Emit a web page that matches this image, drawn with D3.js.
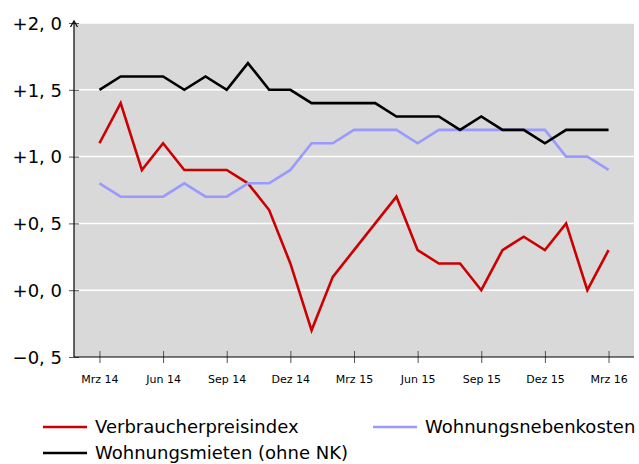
<!DOCTYPE html>
<html><head><meta charset="utf-8">
<script src="https://cdn.jsdelivr.net/npm/d3@7"></script>
<style>body{margin:0;background:#fff}svg{display:block}text{font-family:"DejaVu Sans",sans-serif}</style>
</head><body><svg id="c" width="639" height="464"></svg>
<script>
const months = ["Mrz 14","Apr 14","Mai 14","Jun 14","Jul 14","Aug 14","Sep 14","Okt 14","Nov 14","Dez 14","Jan 15","Feb 15","Mrz 15","Apr 15","Mai 15","Jun 15","Jul 15","Aug 15","Sep 15","Okt 15","Nov 15","Dez 15","Jan 16","Feb 16","Mrz 16"];
const tickLabels = ["Mrz 14","Jun 14","Sep 14","Dez 14","Mrz 15","Jun 15","Sep 15","Dez 15","Mrz 16"];
const yTicks = [-0.5,0,0.5,1,1.5,2];
const vpi = [1.1,1.4,0.9,1.1,0.9,0.9,0.9,0.8,0.6,0.2,-0.3,0.1,0.3,0.5,0.7,0.3,0.2,0.2,0.0,0.3,0.4,0.3,0.5,0.0,0.3];
const nebenkosten = [0.8,0.7,0.7,0.7,0.8,0.7,0.7,0.8,0.8,0.9,1.1,1.1,1.2,1.2,1.2,1.1,1.2,1.2,1.2,1.2,1.2,1.2,1.0,1.0,0.9];
const mieten = [1.5,1.6,1.6,1.6,1.5,1.6,1.5,1.7,1.5,1.5,1.4,1.4,1.4,1.4,1.3,1.3,1.3,1.2,1.3,1.2,1.2,1.1,1.2,1.2,1.2];
const seriesNames = ["Verbraucherpreisindex","Wohnungsnebenkosten","Wohnungsmieten (ohne NK)"];
const colors = ["#cc0000","#9999ff","#000000"];

const svg = d3.select("#c");
const x = d3.scaleLinear().domain([-1.2,25.2]).range([74,634]);
const y = d3.scaleLinear().domain([-0.5,2]).range([357,23]);

svg.append("rect").attr("x",x(-1.2)).attr("y",y(2)).attr("width",x(25.2)-x(-1.2)).attr("height",y(-0.5)-y(2)).attr("fill","#d9d9d9");
svg.selectAll("line.grid").data(yTicks.filter(d=>d>-0.5)).join("line").attr("class","grid")
  .attr("x1",x(-1.2)).attr("x2",x(25.2)).attr("y1",d=>y(d)).attr("y2",d=>y(d))
  .attr("stroke","#fff").attr("stroke-width",1.5);

const fmt = d => (d<0?"\u2212":"+") + Math.abs(d).toFixed(1).replace(".",", ");
const yAxis = d3.axisLeft(y).tickValues(yTicks).tickFormat(fmt).tickSize(5).tickPadding(8);
const gy = svg.append("g").attr("transform",`translate(${x(-1.2)},0)`).call(yAxis);
gy.select(".domain").remove();
gy.selectAll(".tick line").attr("x2",5).attr("x1",-5).attr("stroke","#555");
gy.selectAll(".tick text").attr("font-size",18).attr("fill","#000").attr("dy","0.35em").attr("x",-12);

const tickIdx = tickLabels.map(t=>months.indexOf(t));
const xAxis = d3.axisBottom(x).tickValues(tickIdx).tickFormat(i=>months[i]).tickSize(6).tickPadding(12);
const gx = svg.append("g").attr("transform",`translate(0,${y(-0.5)})`).call(xAxis);
gx.select(".domain").remove();
gx.selectAll(".tick line").attr("y1",-6).attr("y2",6).attr("stroke","#555");
gx.selectAll(".tick text").attr("font-size",11).attr("fill","#000");

svg.append("line").attr("x1",x(-1.2)).attr("x2",x(25.2)).attr("y1",y(-0.5)).attr("y2",y(-0.5)).attr("stroke","#000").attr("stroke-width",1.2);
svg.append("line").attr("x1",x(-1.2)).attr("x2",x(-1.2)).attr("y1",y(-0.5)).attr("y2",y(2)-1).attr("stroke","#000").attr("stroke-width",1.2);
svg.append("path").attr("d",`M${x(-1.2)-3.5},${y(2)+4} L${x(-1.2)},${y(2)-2} L${x(-1.2)+3.5},${y(2)+4}`).attr("fill","none").attr("stroke","#000").attr("stroke-width",1.2);

const line = d3.line().x((d,i)=>x(i)).y(d=>y(d));
[vpi,nebenkosten,mieten].forEach((s,k)=>{
  svg.append("path").datum(s).attr("d",line).attr("fill","none").attr("stroke",colors[k]).attr("stroke-width",2.6).attr("stroke-linejoin","miter");
});

const leg = [{k:0,x:43,y:427},{k:1,x:373,y:427},{k:2,x:43,y:453}];
leg.forEach(l=>{
  svg.append("line").attr("x1",l.x).attr("x2",l.x+44).attr("y1",l.y).attr("y2",l.y).attr("stroke",colors[l.k]).attr("stroke-width",2.6);
  svg.append("text").attr("x",l.x+52).attr("y",l.y).attr("dy","0.35em").attr("font-size",18).text(seriesNames[l.k]);
});
</script></body></html>
